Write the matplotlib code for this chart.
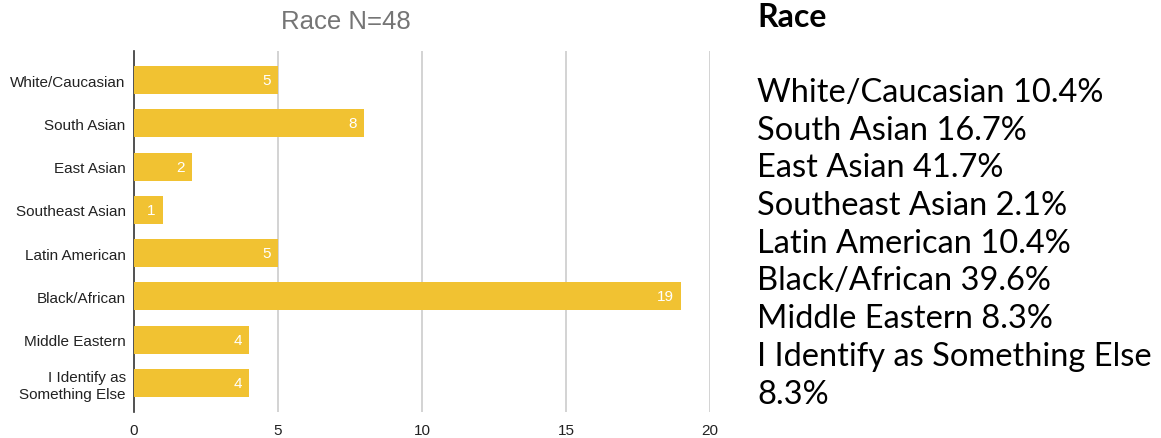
import matplotlib.pyplot as plt

# chart data
races = ["White/Caucasian", "South Asian", "East Asian", "Southeast Asian",
         "Latin American", "Black/African", "Middle Eastern",
         "I Identify as\nSomething Else"]
counts = [5, 8, 2, 1, 5, 19, 4, 4]
xticks = [0, 5, 10, 15, 20]

# side text
side_title = "Race"
side_lines = ["White/Caucasian 10.4%", "South Asian 16.7%", "East Asian 41.7%",
              "Southeast Asian 2.1%", "Latin American 10.4%", "Black/African 39.6%",
              "Middle Eastern 8.3%", "I Identify as Something Else", "8.3%"]

W, H = 1161, 439
fig = plt.figure(figsize=(W / 100, H / 100), dpi=100)
ax = fig.add_axes([134 / W, 1 - 413 / H, (710 - 134) / W, (413 - 52) / H])

ypos = list(range(len(races)))
ax.barh(ypos, counts, height=0.65, color="#F1C232", zorder=3)
for y, c in zip(ypos, counts):
    ax.text(c - 0.25, y, str(c), ha="right", va="center", color="white",
            fontsize=11, family="Liberation Sans", zorder=4)

ax.set_ylim(len(races) - 0.33, -0.67)
ax.set_xlim(0, 20)
ax.set_yticks(ypos)
ax.set_yticklabels(races, fontsize=11, family="Liberation Sans", color="#222222")
ax.set_xticks(xticks)
ax.set_xticklabels([str(t) for t in xticks], fontsize=11,
                   family="Liberation Sans", color="#222222")
ax.tick_params(length=0)
ax.tick_params(axis="y", pad=6)
ax.tick_params(axis="x", pad=8)
for t in xticks[1:]:
    ax.axvline(t, color="#CCCCCC", lw=1.2, zorder=1)
for s in ["top", "right", "bottom"]:
    ax.spines[s].set_visible(False)
ax.spines["left"].set_color("#333333")
ax.spines["left"].set_linewidth(1.2)

fig.text(346 / W, 1 - 22 / H, "Race N=48", ha="center", va="center",
         fontsize=18.5, color="#757575", family="Liberation Sans")

fig.text(757 / W, 1 - 27 / H, side_title, ha="left", va="baseline",
         fontsize=23, fontweight="bold", family="Lato", color="black")
for i, line in enumerate(side_lines):
    fig.text(757 / W, 1 - (102 + 37.7 * i) / H, line, ha="left", va="baseline",
             fontsize=23.5, family="Lato", color="black")

fig.savefig("out.png", dpi=100)
